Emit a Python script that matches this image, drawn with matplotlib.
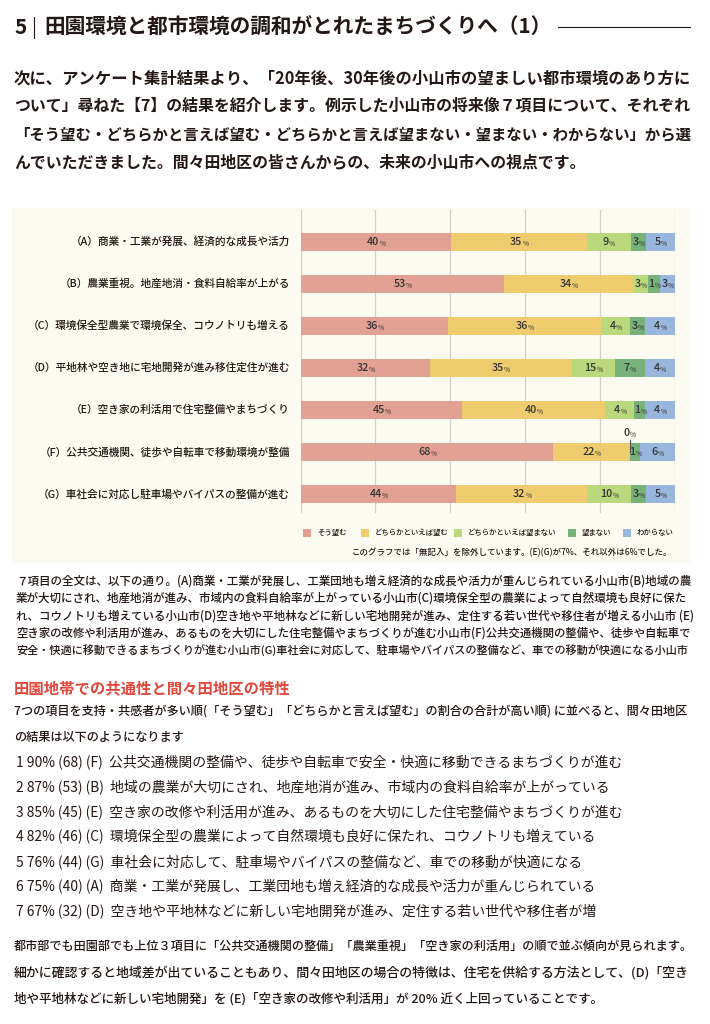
import matplotlib
matplotlib.use('Agg')
import matplotlib.pyplot as plt
from matplotlib.patches import Rectangle
from matplotlib.transforms import offset_copy
import numpy as np

plt.rcParams['font.family'] = ['Noto Sans CJK JP', 'DejaVu Sans']

W, H = 710, 1024
INK = '#231815'
RED = '#e0483c'

# --- textos ---
title_num = '5'
title = '田園環境と都市環境の調和がとれたまちづくりへ（1）'
intro_lines = [
    '次に、アンケート集計結果より、「20年後、30年後の小山市の望ましい都市環境のあり方に',
    'ついて」尋ねた【7】の結果を紹介します。例示した小山市の将来像７項目について、それぞれ',
    '「そう望む・どちらかと言えば望む・どちらかと言えば望まない・望まない・わからない」から選',
    'んでいただきました。間々田地区の皆さんからの、未来の小山市への視点です。',
]

items = [
    '（A）商業・工業が発展、経済的な成長や活力',
    '（B）農業重視。地産地消・食料自給率が上がる',
    '（C）環境保全型農業で環境保全、コウノトリも増える',
    '（D）平地林や空き地に宅地開発が進み移住定住が進む',
    '（E）空き家の利活用で住宅整備やまちづくり',
    '（F）公共交通機関、徒歩や自転車で移動環境が整備',
    '（G）車社会に対応し駐車場やバイパスの整備が進む',
]
categories = ['そう望む', 'どちらかといえば望む', 'どちらかといえば望まない', '望まない', 'わからない']
colors = ['#e3a194', '#efcd6f', '#bad87c', '#78b17a', '#99b6dc']

# porcentajes impresos en la grafica
lab_sou = [40, 53, 36, 32, 45, 68, 44]
lab_dochira = [35, 34, 36, 35, 40, 22, 32]
lab_dochira_no = [9, 3, 4, 15, 4, 0, 10]
lab_no = [3, 1, 3, 7, 1, 1, 3]
lab_wakaranai = [5, 3, 4, 4, 4, 6, 5]

# largo de cada segmento tal como esta dibujado (% del ancho)
bar_sou = [40.3, 54.3, 39.4, 34.5, 43.1, 67.5, 41.6]
bar_dochira = [36.2, 34.7, 41.0, 38.0, 38.4, 20.5, 35.1]
bar_dochira_no = [11.8, 3.9, 7.7, 11.5, 7.8, 0.0, 11.6]
bar_no = [4.1, 3.3, 4.1, 8.0, 2.9, 2.8, 4.1]
bar_wakaranai = [7.6, 3.8, 7.8, 8.0, 7.8, 9.2, 7.6]

note = 'このグラフでは「無記入」を除外しています。(E)(G)が7%、それ以外は6%でした。'

foot_lines = [
    '７項目の全文は、以下の通り。(A)商業・工業が発展し、工業団地も増え経済的な成長や活力が重んじられている小山市(B)地域の農',
    '業が大切にされ、地産地消が進み、市域内の食料自給率が上がっている小山市(C)環境保全型の農業によって自然環境も良好に保た',
    'れ、コウノトリも増えている小山市(D)空き地や平地林などに新しい宅地開発が進み、定住する若い世代や移住者が増える小山市 (E)',
    '空き家の改修や利活用が進み、あるものを大切にした住宅整備やまちづくりが進む小山市(F)公共交通機関の整備や、徒歩や自転車で',
    '安全・快適に移動できるまちづくりが進む小山市(G)車社会に対応して、駐車場やバイパスの整備など、車での移動が快適になる小山市',
]
heading = '田園地帯での共通性と間々田地区の特性'
para_lines = [
    '7つの項目を支持・共感者が多い順(「そう望む」「どちらかと言えば望む」の割合の合計が高い順) に並べると、間々田地区',
    'の結果は以下のようになります',
]
rank_lines = [
    '1 90% (68) (F)  公共交通機関の整備や、徒歩や自転車で安全・快適に移動できるまちづくりが進む',
    '2 87% (53) (B)  地域の農業が大切にされ、地産地消が進み、市域内の食料自給率が上がっている',
    '3 85% (45) (E)  空き家の改修や利活用が進み、あるものを大切にした住宅整備やまちづくりが進む',
    '4 82% (46) (C)  環境保全型の農業によって自然環境も良好に保たれ、コウノトリも増えている',
    '5 76% (44) (G)  車社会に対応して、駐車場やバイパスの整備など、車での移動が快適になる',
    '6 75% (40) (A)  商業・工業が発展し、工業団地も増え経済的な成長や活力が重んじられている',
    '7 67% (32) (D)  空き地や平地林などに新しい宅地開発が進み、定住する若い世代や移住者が増',
]
last_lines = [
    '都市部でも田園部でも上位３項目に「公共交通機関の整備」「農業重視」「空き家の利活用」の順で並ぶ傾向が見られます。',
    '細かに確認すると地域差が出ていることもあり、間々田地区の場合の特徴は、住宅を供給する方法として、(D)「空き',
    '地や平地林などに新しい宅地開発」を (E)「空き家の改修や利活用」が 20% 近く上回っていることです。',
]

fig = plt.figure(figsize=(W / 100, H / 100), dpi=100)
fig.patch.set_facecolor('white')
renderer = fig.canvas.get_renderer()


def fx(x):
    return x / W


def fy(y):
    return 1 - y / H


def fit_size(text, width_px, **kw):
    # tamaño de letra para que la linea ocupe width_px pixeles
    t = fig.text(0, 0, text, fontsize=10, **kw)
    w = t.get_window_extent(renderer).width
    t.remove()
    return 10 * width_px / w


def put(text, x, y, size, ha='left', **kw):
    fig.text(fx(x), fy(y), text, fontsize=size, ha=ha, va='center', **kw)


def paragraph(lines, x, y0, dy, width, n_full, **kw):
    # las primeras n_full lineas llenan el ancho, el resto usa el tamaño medio
    sizes = [fit_size(l, width, **kw) for l in lines[:n_full]]
    rest = float(np.median(sizes))
    for k, line in enumerate(lines):
        s = sizes[k] if k < n_full else rest
        put(line, x, y0 + dy * k, s, **kw)


# --- titulo ---
s = fit_size(title, 508, weight='bold')
put(title_num, 14, 27, s, weight='bold', color=INK)
fig.add_artist(plt.Line2D([fx(34), fx(34)], [fy(17), fy(38)], color=INK, lw=0.8))
put(title, 44, 27, s, weight='bold', color=INK)
fig.add_artist(plt.Line2D([fx(558), fx(690)], [fy(27), fy(27)], color=INK, lw=0.8))

# --- introduccion ---
paragraph(intro_lines, 14, 78, 28, 676, 3, weight='bold', color=INK)

# --- panel de la grafica ---
fig.add_artist(Rectangle((fx(12), fy(563)), fx(678), (563 - 208) / H,
                         facecolor='#fcfbf1', edgecolor='none', zorder=0))

ax = fig.add_axes([fx(300.5), fy(513), fx(374), (513 - 210) / H])
ax.set_facecolor('none')
ax.set_xlim(0, 100)
ax.set_ylim(6.45, -0.76)
for sp in ax.spines.values():
    sp.set_visible(False)
ax.set_xticks([])
ax.set_yticks([])
for g in range(0, 101, 20):
    ax.axvline(g, color='#cfcfcf', lw=0.9, zorder=0)

bars = [bar_sou, bar_dochira, bar_dochira_no, bar_no, bar_wakaranai]
labels = [lab_sou, lab_dochira, lab_dochira_no, lab_no, lab_wakaranai]
y = np.arange(len(items))
left = np.zeros(len(items))
for j in range(len(categories)):
    widths = np.array(bars[j])
    ax.barh(y, widths, left=left, height=0.43, color=colors[j], zorder=2)
    for i in range(len(items)):
        v = labels[j][i]
        c = left[i] + widths[i] / 2
        yy = y[i]
        if widths[i] == 0:
            # etiqueta de 0% fuera de la barra con linea
            ax.plot([left[i], left[i]], [yy - 0.29, yy], color='#555555', lw=0.8, zorder=3)
            yy = yy - 0.46
        dx = (len(str(v)) * 6.3 - 5.5) / 2
        tr = offset_copy(ax.transData, fig=fig, x=dx, y=0, units='dots')
        ax.text(c, yy, str(v), transform=tr, ha='right', va='center',
                fontsize=7.8, weight='medium', color='#333333', zorder=4)
        ax.text(c, yy + 0.05, '%', transform=tr, ha='left', va='center',
                fontsize=4.8, color='#333333', zorder=4)
    left = left + widths

s = fit_size(items[3], 263, weight='medium')
for i, name in enumerate(items):
    put(name, 290, 242 + 42 * i, s, ha='right', weight='medium', color=INK)

# leyenda
leg_x = [303, 361, 454, 568, 623]
s = fit_size(categories[2], 89, weight='medium')
for j, name in enumerate(categories):
    fig.add_artist(Rectangle((fx(leg_x[j]), fy(537)), fx(8), 8 / H,
                             facecolor=colors[j], edgecolor='none'))
    put(name, leg_x[j] + 14, 533, s, weight='medium', color=INK)
put(note, 672, 553, fit_size(note, 319, weight='medium'), ha='right', weight='medium', color=INK)

# --- texto de pie ---
paragraph(foot_lines, 16, 581, 17.5, 674, 5, weight='medium', color=INK)

put(heading, 14, 688, fit_size(heading, 276, weight='bold'), weight='bold', color=RED)

paragraph(para_lines, 14, 711, 26, 676, 1, weight='medium', color=INK)

s = fit_size(rank_lines[0], 604)
for k, line in enumerate(rank_lines):
    put(line, 16, 762 + 25 * k, s, color=INK)

paragraph(last_lines, 14, 946, 26.5, 678, 2, weight='medium', color=INK)

fig.savefig('out.png', dpi=100)
